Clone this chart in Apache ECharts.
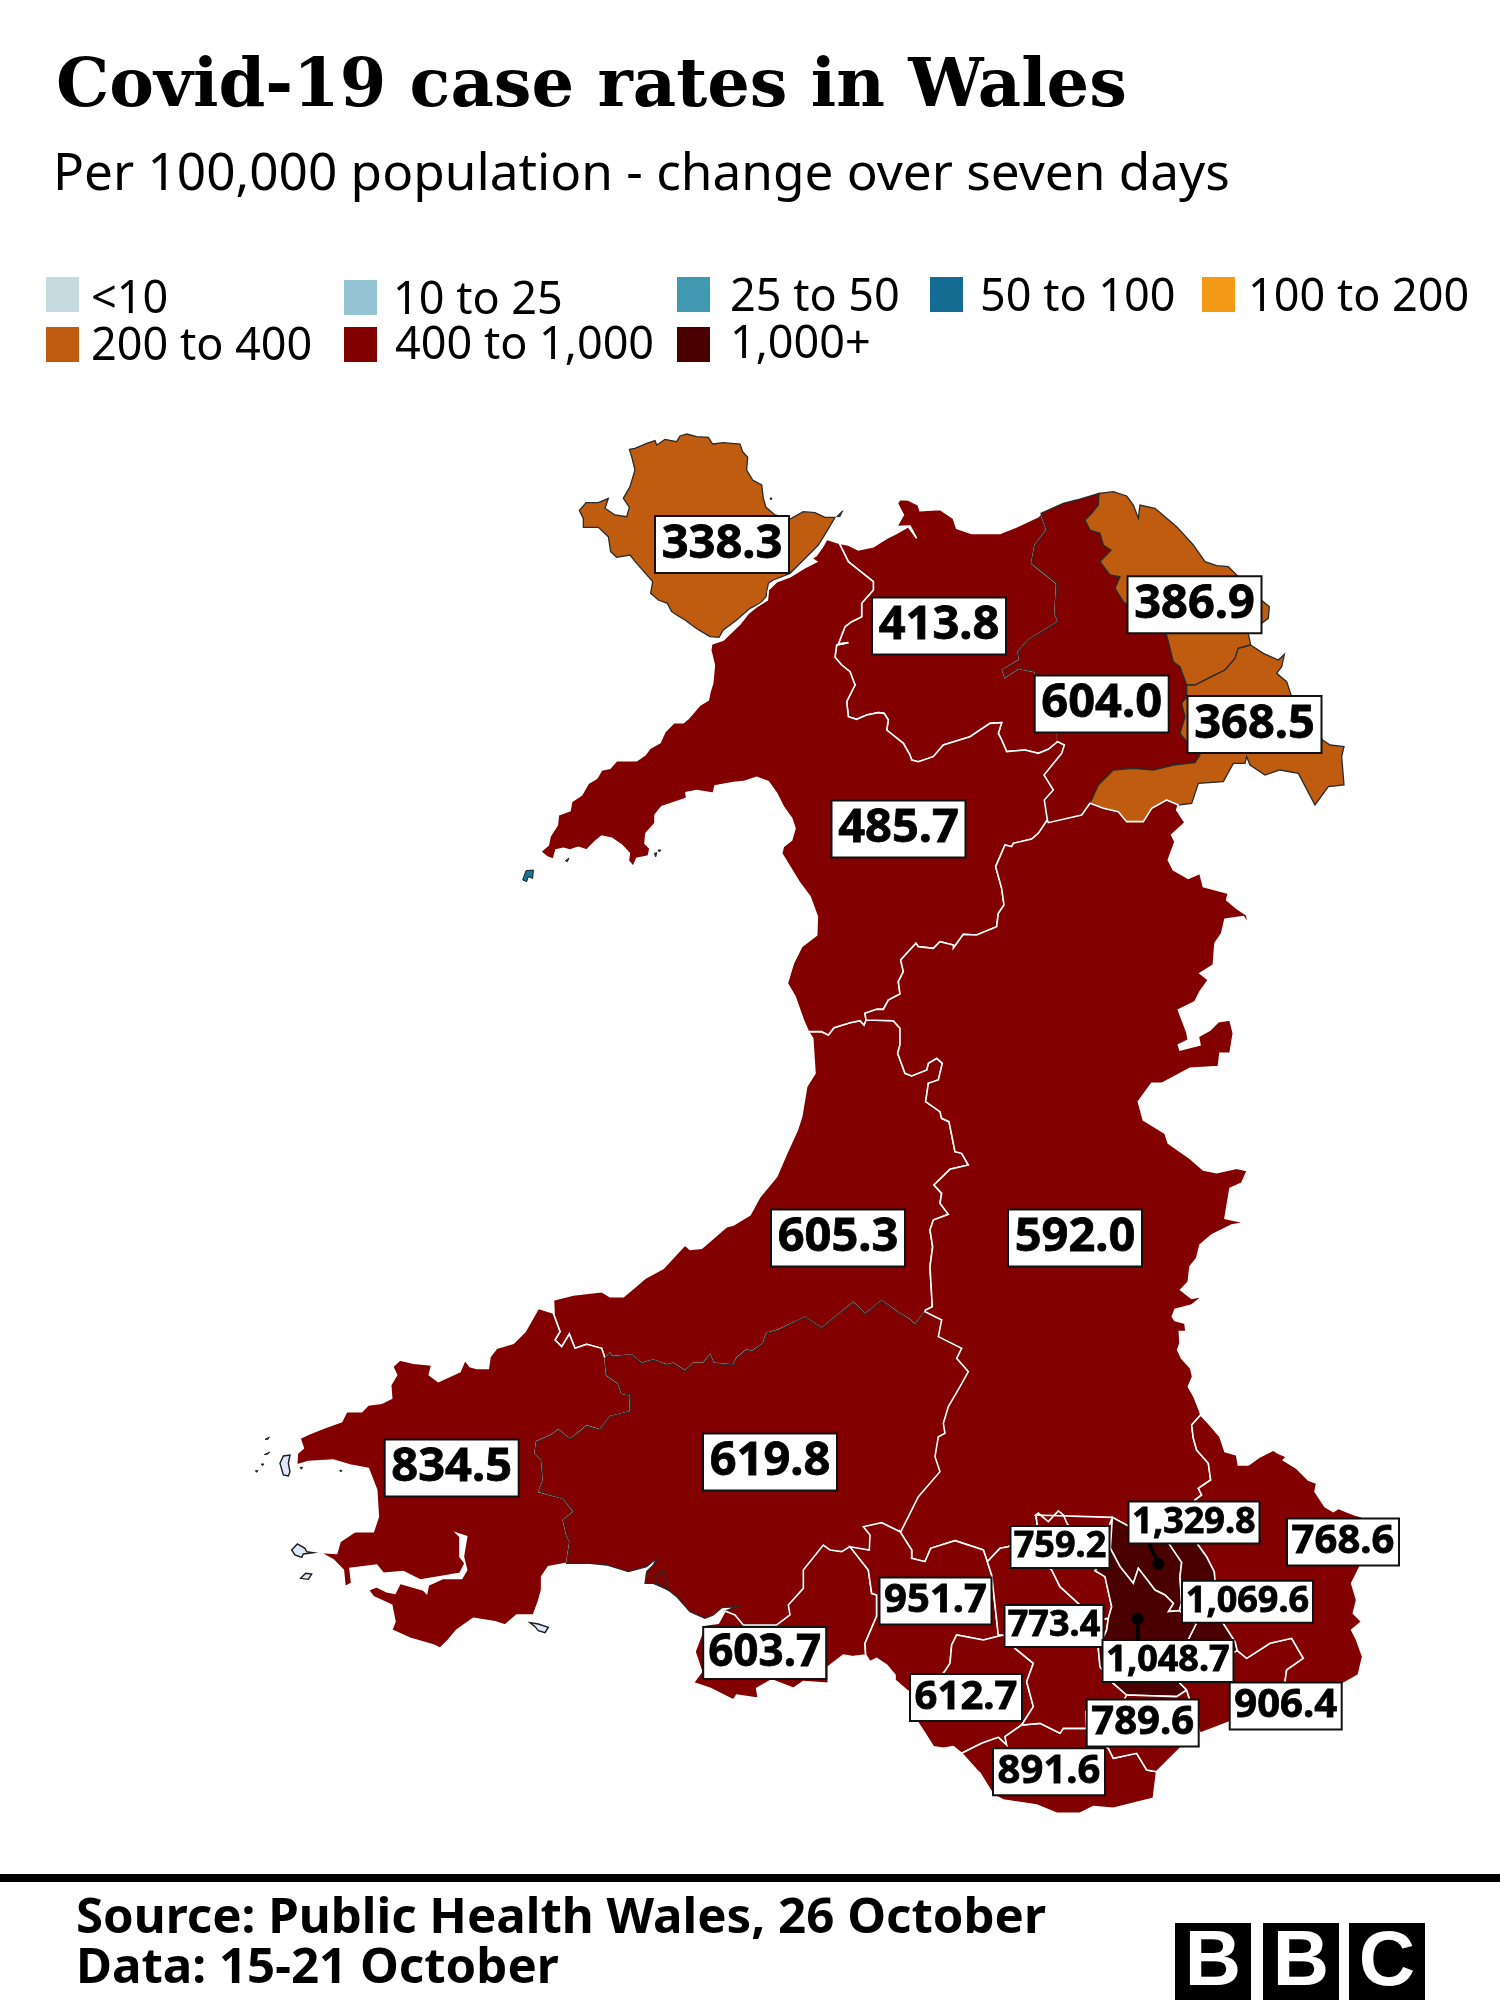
<!DOCTYPE html>
<html>
<head>
<meta charset="utf-8" />
<title>Covid-19 case rates in Wales</title>
<script src="https://cdn.jsdelivr.net/npm/echarts@6/dist/echarts.min.js"></script>
<style>
  html, body { margin: 0; background: #fff; }
  #main { width: 1500px; height: 2000px; }
</style>
</head>
<body>
<div id="main"></div>
<script>
// the chart's values
const regionNames = ['Anglesey', 'Conwy', 'Denbighshire', 'Flintshire', 'Wrexham', 'Gwynedd', 'Powys', 'Ceredigion',
  'Carmarthenshire', 'Pembrokeshire', 'Swansea', 'Neath Port Talbot', 'Bridgend', 'Vale of Glamorgan',
  'Rhondda Cynon Taf', 'Merthyr Tydfil', 'Blaenau Gwent', 'Torfaen', 'Caerphilly', 'Cardiff', 'Newport', 'Monmouthshire']
const regionValues = [338.3, 413.8, 604.0, 386.9, 368.5, 485.7, 592.0, 605.3,
  619.8, 834.5, 603.7, 951.7, 612.7, 891.6,
  773.4, 759.2, 1329.8, 1069.6, 1048.7, 789.6, 906.4, 768.6]
const legendLabels = ['<10', '10 to 25', '25 to 50', '50 to 100', '100 to 200', '200 to 400', '400 to 1,000', '1,000+']
const legendBreaks = [0, 10, 25, 50, 100, 200, 400, 1000, Infinity]
const legendColors = ['#c6dbe0', '#94c3d4', '#4098b1', '#146c92', '#f49a17', '#c05c0f', '#830000', '#4a0000']

const titleText = 'Covid-19 case rates in Wales'
const subtitleText = 'Per 100,000 population - change over seven days'
const footerLines = ['Source: Public Health Wales, 26 October', 'Data: 15-21 October']

function seg(ox, oy, a) {
  const out = []
  for (let i = 0; i < a.length; i += 2) out.push([ox + a[i] / 3, -(oy + a[i + 1] / 3)])
  return out
}
const rev = a => a.slice().reverse()
const ring = (...parts) => {
  const r = [].concat(...parts)
  r.push(r[0])
  return r
}
const A = (a) => seg(520, 420, a), B = (a) => seg(900, 470, a), C = (a) => seg(760, 800, a),
  D = (a) => seg(520, 1180, a), E = (a) => seg(240, 1300, a), F = (a) => seg(660, 1480, a),
  G = (a) => seg(980, 1400, a), H = (a) => seg(1120, 1290, a)

const angleseyRing = A([328,88,345,85,380,70,405,62,410,75,435,58,470,65,480,48,500,42,530,50,565,52,578,72,610,68,660,72,668,95,683,112,680,150,698,180,725,195,730,235,738,262,765,285,810,297,850,275,885,278,915,292,945,292,920,335,895,375,860,410,810,460,760,480,745,490,738,530,720,550,690,565,650,600,610,630,597,652,570,650,540,632,522,620,508,610,495,600,470,585,455,575,442,550,415,540,392,520,398,485,372,455,350,430,330,405,290,412,272,395,265,350,235,322,190,322,190,295,178,272,198,248,235,248,265,235,255,265,285,285,320,290,328,262,310,235,330,200,345,150,335,110])

const gwCoast = A([958,370,920,358,908,380,888,408,875,415,890,425,860,440,810,470,770,485,745,510,742,540,710,560,685,580,660,612,610,660,575,672,572,690,583,735,578,790,570,815,565,840,540,855,505,895,490,908,462,908,435,935,420,968,390,985,375,1005,350,1022,290,1022,270,1045,245,1050,230,1075,205,1090,185,1125,155,1145,150,1172,115,1185,112,1215,90,1250,85,1275,62,1295,80,1310,100,1318,108,1290,130,1285,150,1290,175,1282,200,1290,225,1265,245,1248,275,1255,305,1275,328,1300,325,1322,340,1340,350,1315,385,1308,390,1285,375,1270,378,1240,405,1210,405,1185,425,1160,500,1135,498,1118,530,1112,580,1120,585,1098,640,1088,670,1085,710,1072,745,1085,770,1120,790,1160,815,1195,825,1225,815,1260,790,1280,785,1300]).concat(C([120,250,150,290,172,350,170,405,125,440,100,490,82,550,105,590,130,660,145,695]))
const gwCer = C([145,695,185,695,205,705,222,683,270,668,300,662,312,675,318,660])
const gwPow = C([318,660,315,640,350,628,370,628,385,600,420,582,415,545,430,515,422,480,468,430,475,440,520,445,540,425,580,435,580,445,610,403,650,405,710,380,715,340,732,315,725,265,707,200,720,170,735,135,755,140,760,130,815,117,835,100,862,60])
const gwDen = B([445,1048,433,990,460,960,432,915,485,850,493,825,473,815])
const conGw = B([473,815,445,838,415,850,375,840,320,845,305,810,295,790,305,758,270,760,210,800,130,825,100,860,55,875,35,870]).concat(A([1170,1005,1150,970,1100,930,1105,900,1092,880,1075,878,1040,885,1010,898,985,890,980,845,1005,795,990,755,965,735,945,712,950,675,985,668,955,672,975,620,995,605,1025,590,1025,550,1060,510,1060,485,1010,445,985,425,958,370]))
const conCoast = A([958,370,985,375,1015,390,1060,380,1100,355,1130,340,1165,320,1190,355,1170,318,1130,320,1150,285,1132,250,1140,238,1165,240,1195,255,1200,272,1260,268]).concat(B([160,145,170,175,215,190,300,190,350,170,415,140,423,130]))
const conDen = B([423,130,440,180,405,225,395,280,470,340,465,430,475,455,385,510,355,545,358,570,308,600,315,622,355,595,405,605,440,700,473,790,473,815])
const denCoast = B([423,130,490,100,530,90,597,70])
const denFl = B([597,70,595,105,575,130,555,150,570,180,600,190,610,225,633,240,600,275,630,315,660,320,645,355,670,395,750,450,800,495,820,575,840,590,860,645])
const denWr = B([860,645,860,680,845,700,855,740,840,790,860,815,890,850,900,855,885,878,820,885,760,900,700,895,640,900,595,945,570,1000])
const denPow = B([570,1000,545,1035,445,1058])
const flCoast = B([597,70,640,65,680,78,700,105,715,145,720,105,765,115,830,170,880,225,915,275,950,287,985,290,1015,320,1060,370,1108,410,1105,445,1045,490,1052,525])
const flWr = B([1052,525,1015,535,1005,565,975,600,935,620,885,645,860,645])
const wrEast = B([1052,525,1090,550,1135,570,1153,553,1145,590,1130,610,1160,635,1175,680,1268,810,1290,825,1332,830,1325,860,1332,945,1285,950,1245,1005,1195,910,1140,900,1095,915,1050,885,1040,860,1035,880,1000,880,970,935,895,940,875,1000,835,1005])
const wrPow = B([835,1005,800,990,755,1015,730,1055,680,1055,655,1025,610,1015,570,1000])
const powCoast = B([835,1005]).concat(C([1250,30,1275,68,1235,105,1245,125,1225,180,1240,210,1285,235,1320,220,1330,260,1405,280,1400,300,1430,325,1460,345,1465,372,1450,350,1395,358,1385,400,1365,430,1360,495,1320,520,1345,540,1320,575,1305,605,1255,630,1280,695,1285,720,1255,735,1260,750,1320,735,1315,710,1350,690,1375,665,1410,660,1420,700,1410,760,1380,760,1375,800,1290,805,1205,850,1175,850,1135,905,1150,960,1215,1000,1225,1030,1290,1075,1330,1110,1370,1118,1430,1105,1462,1112,1445,1150,1410,1165,1395,1255,1455,1268,1415,1275,1355,1305,1320,1335,1310,1375,1290,1400,1285,1445,1262,1470,1295,1495,1320,1490])).concat(H([240,25,215,45,165,58,157,80,165,92,195,100,198,125,178,125,180,160,173,180,185,205,212,235,218,260,205,290,222,320,240,365,242,375]))
const powMon = H([242,375]).concat(G([635,75,640,115,650,150,685,190,692,240,655,265,665,285,645,300,640,400,650,428]))
const powTo = G([650,428,565,428])
const powBl = G([565,428,500,405,445,378,397,352])
const powMer = G([397,352,385,385,275,385,262,372,250,345,235,333,205,365,175,340,168,345])
const powRct = G([168,345,175,400,95,435,85,440,60,445,22,485])
const nptPow = F([720,155,755,210,755,235,795,245,812,205,885,182,970,210,982,245])
const carPow = D([1215,395,1265,420,1255,470,1325,505,1310,535,1345,575,1320,620,1285,680,1270,730,1275,760,1255,770,1245,830,1260,875,1195,950,1170,1000,1140,1060])
const cerPow = C([318,660,400,662,420,685,420,735,413,760,435,820,455,828,500,810,505,790,530,775,547,790,535,840,505,850,497,905,540,935,545,955,567,965,585,1055,605,1060,625,1095,570,1108,522,1155,545,1180,540,1210,565,1243,520,1260,510,1290,518,1340,510,1400,517,1520,497,1530])
const cerCoast = C([145,695,158,715,165,820,140,860,125,950,112,990,80,1060,50,1130,0,1190]).concat(D([690,105,640,135,620,140,545,205,510,208,495,195,430,265,375,295,340,325,310,350,270,350,245,335,160,345,100,360]))
const cerPem = D([100,360,100,400,120,455,105,480,125,500,148,462,165,505,200,493,245,505,255,535])
const cerCar = D([255,535,270,520,275,530,335,525,365,550,400,540,440,555,460,550,495,573,520,550,550,550,570,525,580,550,640,555,650,535,680,510,695,515,730,490,740,460,775,450,855,412,905,445,935,420,1000,368,1035,403,1085,362,1130,395,1170,420,1185,435,1215,395])
const carNpt = F([720,155,665,128,610,140,630,165,628,210,570,200])
const carSw = F([570,200,545,215,510,210,490,195,430,270,430,325,385,375,390,405,350,435,250,435,225,405,195,393])
const carCoast = E([980,790,1050,790,1100,795,1165,815,1220,800,1250,775,1240,795,1220,815,1215,850,1240,850,1285,870,1310,890,1350,935,1395,955]).concat(F([160,405,185,383,230,380,195,393]))
const pemCar = E([1095,175,1100,225,1135,250,1145,280,1172,285,1170,335,1110,350,1080,390,1040,378,1020,395,990,418,955,390,935,405,890,425,885,460,905,480,910,540,897,575,970,595,1002,635,970,660,980,705,990,725,980,790])
const pemCoast = E([942,40,895,25,875,60,855,95,820,130,770,145,750,170,745,205,710,205,690,200,675,180,660,215,595,245,568,225,575,195,520,190,480,180,458,200,470,225,452,255,455,295,425,310,385,315,365,335,320,335,305,365,250,385,205,403,180,415,190,445,172,460,170,495,205,485,280,480,330,495,385,505,410,570,415,650,400,695,345,695,300,725,290,760,240,757,280,780,310,810,315,860,335,850,330,805,410,795,430,820,490,815,540,840,600,830,660,820,675,790,660,770,660,710,650,700,680,710,670,770,680,810,665,835,610,835,565,855,560,880,550,870,480,850,465,880,440,875,410,860,385,870,400,890,455,915,465,965,455,990,510,1015,580,1035,600,1045,625,1020,650,990,700,955,765,965,795,975,830,945,880,945,895,905,905,870,905,830,925,800,980,790])
const swNpt = F([617,525,615,490,650,408,650,345,635,340,625,270,570,200])
const swCoast = F([617,525,580,530,550,525,505,560,505,610,430,605,400,625,335,600,290,625,295,655,230,645,220,660,150,625,100,608,125,575,105,515,135,435,175,430,195,393])
const nptRct = F([982,245,995,285,1015,465,1030,465])
const nptBr = F([1030,465,970,480,890,465,875,495,870,550,850,580,745,635])
const nptCoast = F([745,635,705,600,705,585,680,555,650,535,630,545,617,525])
const brRct = F([1030,465,1065,505,1120,550,1100,605,1120,680,1085,735])
const brVale = F([905,820,965,790,1015,772,1040,795,1035,770,1085,735])
const brCoast = F([905,820,880,800,850,805,820,800,795,760,775,730,750,700,745,635])
const rctVale = F([1085,735,1140,730]).concat(G([240,1000,250,985,320,985]))
const rctCar = G([320,985,318,935,430,905,440,885])
const caeRct = G([440,885,400,850,360,800,355,745,380,690,385,655])
const merRct = G([385,655,350,660,295,610,240,560,215,510,150,450,175,400,168,345])
const merCae = G([385,655,395,620,375,530,345,512,370,480,391,445])
const merBl = G([391,445,397,352])
const blTo = G([565,428,605,487,600,530,605,610,598,632])
const blCae = G([598,632,565,635,580,610,555,585,525,570,475,505,460,550,420,500,391,445])
const caeTo = G([598,632,648,672,625,718,625,780])
const caeNew = G([625,780,600,850,620,870])
const caeCar = G([620,870,590,890,440,885])
const toMon = G([650,428,680,470,703,515,705,540,730,670,765,725,772,752])
const newTo = G([625,780,700,790,772,752])
const newMon = G([772,752,800,775,870,730,935,715,970,775,920,810,915,845,1000,905])
const newCoast = G([1000,905,900,940,750,965,660,1000])
const carNew = G([620,870,660,1000])
const monCoast = H([242,375]).concat(G([690,75,720,110,735,155,770,165,775,195,805,195,840,170,880,150,895,160,920,170,910,180,950,205,985,240,1010,250,1005,275,1035,320,1060,335,1075,325,1100,335,1125,345,1145,350,1160,420,1140,500,1115,550,1130,600,1120,640,1145,665,1115,690,1130,720,1148,770,1135,825,1090,850,1000,905]))
const cardCoast = G([660,1000,600,1045,560,1085,530,1115])
const cardVale = G([530,1115,500,1110,470,1060,400,1075,385,1045,320,985])
const valeCoast = G([530,1115,520,1195,400,1225,340,1220,300,1240,230,1240,170,1215,70,1200,40,1185,0,1120]).concat(F([950,870,905,820]))

const regionRings = {
  'Anglesey': ring(angleseyRing),
  'Conwy': ring(conCoast, conDen, conGw),
  'Denbighshire': ring(denCoast, denFl, denWr, denPow, gwDen, rev(conDen)),
  'Flintshire': ring(flCoast, flWr, rev(denFl)),
  'Wrexham': ring(wrEast, wrPow, rev(denWr), rev(flWr)),
  'Gwynedd': ring(gwCoast, gwCer, gwPow, gwDen, conGw),
  'Powys': ring(powCoast, powMon, powTo, powBl, powMer, powRct, rev(nptPow), rev(carPow), rev(cerPow), gwPow, rev(denPow), rev(wrPow)),
  'Ceredigion': ring(cerCoast, cerPem, cerCar, rev(cerPow), rev(gwCer)),
  'Carmarthenshire': ring(cerCar, carPow, carNpt, carSw, rev(carCoast), rev(pemCar)),
  'Pembrokeshire': ring(pemCoast, rev(pemCar), rev(cerPem)),
  'Swansea': ring(rev(carSw), rev(swNpt), swCoast),
  'Neath Port Talbot': ring(rev(carNpt), nptPow, nptRct, nptBr, nptCoast, swNpt),
  'Bridgend': ring(rev(nptBr), brRct, rev(brVale), brCoast),
  'Vale of Glamorgan': ring(valeCoast, brVale, rctVale, rev(cardVale)),
  'Rhondda Cynon Taf': ring(nptRct, brRct, rctVale, rctCar, caeRct, merRct, powRct),
  'Merthyr Tydfil': ring(rev(merRct), merCae, merBl, rev(powMer)),
  'Blaenau Gwent': ring(rev(powBl), blTo, blCae, merBl),
  'Torfaen': ring(rev(powTo), toMon, rev(newTo), rev(caeTo), rev(blTo)),
  'Caerphilly': ring(rev(blCae), caeTo, caeNew, caeCar, caeRct, merCae),
  'Cardiff': ring(carNew, cardCoast, cardVale, rctCar, rev(caeCar)),
  'Newport': ring(newTo, newMon, newCoast, rev(carNew), rev(caeNew)),
  'Monmouthshire': ring(monCoast, rev(newMon), rev(toMon), rev(powMon))
}
// islands that carry no rate of their own
const islandRings = [
  E([120,490,130,468,150,465,145,490,150,515,145,528,130,525]),
  E([155,750,172,732,195,745,200,755,220,758,190,762,185,772,165,765]),
  E([182,835,197,820,215,822,205,838]),
  E([870,968,895,972,925,982,915,998,895,992,885,980])
]
const bardseyRing = A([8,1380,18,1352,40,1350,38,1375,25,1370,20,1385])
const islets = [
  E([75,418,88,411,84,418]), E([72,464,90,456,84,462]), E([63,492,72,492,68,497]), E([46,512,54,512,50,517]),
  E([180,502,188,502,184,508]), E([299,511,306,511,303,516]),
  A([403,1300,411,1298,407,1311]), A([414,1290,423,1290,418,1296]), A([136,1322,147,1314,142,1325]),
  A([750,234,756,234,753,240]), A([950,290,968,272,960,290])
]
// dark hatching in the Loughor estuary
const inletRing = E([1245,830,1270,810,1285,870,1250,850])

// label box centres on the map
const labelCentres = {
  'Anglesey': [722, 544.5], 'Conwy': [939, 626], 'Denbighshire': [1101.7, 704], 'Flintshire': [1194.5, 604.7],
  'Wrexham': [1254.5, 724.5], 'Gwynedd': [898.5, 829], 'Powys': [1075, 1238], 'Ceredigion': [838, 1238],
  'Carmarthenshire': [770, 1462], 'Pembrokeshire': [451.7, 1468], 'Swansea': [764.7, 1653],
  'Neath Port Talbot': [935.5, 1601], 'Bridgend': [966, 1697.4], 'Vale of Glamorgan': [1049, 1771.7],
  'Rhondda Cynon Taf': [1054, 1626], 'Merthyr Tydfil': [1060, 1547], 'Blaenau Gwent': [1194, 1522.5],
  'Torfaen': [1247.5, 1601.7], 'Caerphilly': [1168, 1661], 'Cardiff': [1142.7, 1723],
  'Newport': [1285.7, 1706], 'Monmouthshire': [1343, 1542]
}
// a line height above the box height pushes the digits down inside the box
const largeBox = { fontSize: 47, width: 132, height: 55, lineHeight: 63 }
const swanseaBox = { fontSize: 44, width: 121, height: 50, lineHeight: 56 }
const mediumBox = { fontSize: 40, width: 110, height: 45, lineHeight: 50 }
const smallBox = { fontSize: 36, width: 97, height: 40, lineHeight: 44 }
const wideBox = { fontSize: 36, width: 129, height: 40, lineHeight: 44 }
const labelBoxes = {
  'Swansea': swanseaBox, 'Neath Port Talbot': mediumBox, 'Bridgend': mediumBox, 'Vale of Glamorgan': mediumBox,
  'Cardiff': mediumBox, 'Newport': mediumBox, 'Monmouthshire': mediumBox,
  'Rhondda Cynon Taf': smallBox, 'Merthyr Tydfil': smallBox,
  'Blaenau Gwent': wideBox, 'Torfaen': wideBox, 'Caerphilly': wideBox
}
const darkEdged = ['Anglesey', 'Denbighshire', 'Flintshire', 'Wrexham', 'Carmarthenshire']

const close = r => r.concat([r[0]])
const feature = (name, rings) => ({
  type: 'Feature',
  properties: { name, cp: labelCentres[name] && [labelCentres[name][0], -labelCentres[name][1]] },
  geometry: { type: 'MultiPolygon', coordinates: rings.map(r => [r]) }
})

// order the draw so that white borders end up on top of the dark ones, as in the picture
const drawOrder = ['Anglesey', 'Conwy', 'Denbighshire', 'Flintshire', 'Wrexham', 'Ceredigion', 'Pembrokeshire', 'Carmarthenshire', 'Gwynedd']
const ordered = drawOrder.concat(regionNames.filter(n => !drawOrder.includes(n)))
const features = ordered.map(n => feature(n, [regionRings[n]]))
features.push(feature('Islands', islandRings.map(close)))
features.push(feature('Bardsey', [close(bardseyRing)]))
features.push(feature('Islets', islets.map(close)))
features.push(feature('Inlet', [close(inletRing)]))
echarts.registerMap('wales', { type: 'FeatureCollection', features })

const fmt = v => v.toLocaleString('en-GB', { minimumFractionDigits: 1, maximumFractionDigits: 1 })

const mapBox = { left: 200, top: 400, width: 1200, height: 1500 }
const mapBounds = [[200, -400], [1400, -1900]]

const mapData = regionNames.map((name, i) => {
  const box = labelBoxes[name] || largeBox
  return {
    name,
    value: regionValues[i],
    itemStyle: darkEdged.includes(name)
      ? { borderColor: '#2a2a2a', borderWidth: 1.3 }
      : { borderColor: '#ffffff', borderWidth: 1.6 },
    label: { fontSize: box.fontSize, width: box.width, height: box.height, lineHeight: box.lineHeight }
  }
})
mapData.push({ name: 'Bardsey', itemStyle: { areaColor: '#14789a', borderColor: '#1a1a1a', borderWidth: 1 }, label: { show: false } })
mapData.push({ name: 'Islets', itemStyle: { areaColor: '#2a2a2a', borderColor: '#2a2a2a', borderWidth: 1 }, label: { show: false } })
mapData.push({ name: 'Islands', itemStyle: { areaColor: '#dce9f8', borderColor: '#1a1a1a', borderWidth: 1.4 }, label: { show: false } })
mapData.push({ name: 'Inlet', itemStyle: { areaColor: '#830000', borderColor: '#2a2a2a', borderWidth: 1.4 }, label: { show: false } })

// legend swatches and texts
const legendCells = [
  [46, 277, 91, 300], [344, 280, 393, 301], [677, 277, 730, 298], [930, 277, 980, 298], [1202, 277, 1248, 298],
  [46, 327, 91, 347], [344, 327, 395, 346], [677, 327, 730, 345]
]
const graphics = []
legendLabels.forEach((t, i) => {
  const c = legendCells[i]
  graphics.push({ type: 'rect', shape: { x: c[0], y: c[1], width: 33, height: 35 }, style: { fill: legendColors[i] } })
  graphics.push({ type: 'text', x: c[2], y: c[3], style: { text: t, font: '400 45px "Noto Sans"', fill: '#000', verticalAlign: 'middle' } })
})
graphics.push({ type: 'rect', shape: { x: 0, y: 1874, width: 1500, height: 8 }, style: { fill: '#000' } })
footerLines.forEach((t, i) => {
  graphics.push({ type: 'text', x: 76, y: 1919 + i * 50, style: { text: t, font: '700 49.2px "Noto Sans"', fill: '#000', verticalAlign: 'middle' } })
})
;['B', 'B', 'C'].forEach((t, i) => {
  const x = [1175, 1263, 1349][i]
  graphics.push({ type: 'rect', shape: { x, y: 1923, width: 76, height: 77 }, style: { fill: '#000' } })
  graphics.push({ type: 'text', x: x + 38, y: 1963, style: { text: t, font: '700 78px "Liberation Sans"', fill: '#fff', align: 'center', verticalAlign: 'middle' } })
})

// leaders from the two small labels to their areas
const leaderLines = [
  [[980 + 508 / 3, -(1400 + 432 / 3)], [980 + 535 / 3, -(1400 + 492 / 3)]],
  [[980 + 473 / 3, -(1400 + 722 / 3)], [980 + 473 / 3, -(1400 + 656 / 3)]]
]

const chart = echarts.init(document.getElementById('main'))
chart.setOption({
  animation: false,
  title: [
    { text: titleText, left: 51, top: 50, textStyle: { fontFamily: 'DejaVu Serif', fontWeight: 700, fontSize: 67, color: '#000' } },
    { text: subtitleText, left: 48, top: 145, textStyle: { fontFamily: 'Noto Sans', fontWeight: 400, fontSize: 51.3, color: '#000' } }
  ],
  tooltip: { show: false },
  geo: {
    map: 'wales', show: false, silent: true, roam: false, aspectScale: 1,
    boundingCoords: mapBounds,
    left: mapBox.left, top: mapBox.top, width: mapBox.width, height: mapBox.height
  },
  visualMap: {
    show: false,
    type: 'piecewise',
    seriesIndex: 0,
    pieces: legendColors.map((color, i) => ({ gte: legendBreaks[i], lt: legendBreaks[i + 1], color }))
  },
  series: [
    {
      type: 'map',
      map: 'wales',
      silent: true,
      roam: false,
      aspectScale: 1,
      boundingCoords: mapBounds,
      left: mapBox.left, top: mapBox.top, width: mapBox.width, height: mapBox.height,
      itemStyle: { areaColor: '#dce9f8', borderColor: '#1a1a1a', borderWidth: 1 },
      label: {
        show: true,
        position: 'inside',
        formatter: p => fmt(p.value),
        fontFamily: 'Noto Sans',
        fontWeight: 700,
        color: '#000',
        align: 'center',
        verticalAlign: 'middle',
        backgroundColor: '#fff',
        borderColor: '#111',
        borderWidth: 2,
        textBorderColor: '#000',
        textBorderWidth: 0.8
      },
      data: mapData
    },
    {
      type: 'lines',
      coordinateSystem: 'geo',
      silent: true,
      lineStyle: { color: '#000', width: 4, opacity: 1, curveness: 0 },
      z: 3,
      data: leaderLines.map(coords => ({ coords }))
    },
    {
      type: 'scatter',
      coordinateSystem: 'geo',
      silent: true,
      symbolSize: 12,
      itemStyle: { color: '#000', opacity: 1 },
      z: 3,
      data: leaderLines.map(l => l[1])
    }
  ],
  graphic: { elements: graphics }
})
</script>
</body>
</html>
